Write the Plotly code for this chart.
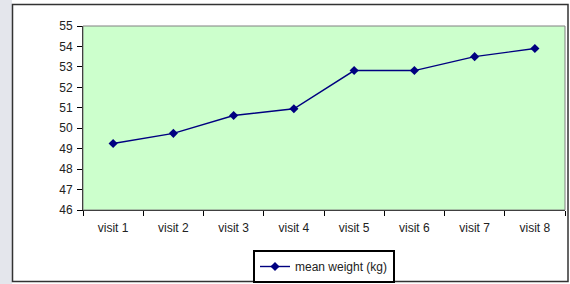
import plotly.graph_objects as go

categories = ["visit 1", "visit 2", "visit 3", "visit 4", "visit 5", "visit 6", "visit 7", "visit 8"]
mean_weight = [49.25, 49.75, 50.62, 50.95, 52.82, 52.82, 53.5, 53.9]
series_name = "mean weight (kg)"

W, H = 570, 284
L, R, T, B = 83, 5, 26, 74
pw, ph = W - L - R, H - T - B

def px_x(x):
    return (x - L) / pw

def px_y(y):
    return (H - B - y) / ph

fig = go.Figure()
fig.add_trace(go.Scatter(
    x=categories, y=mean_weight, name=series_name, mode="lines+markers",
    line=dict(color="#000080", width=1.4),
    marker=dict(symbol="diamond", size=7, color="#000080"),
))

font = dict(family="Liberation Sans, Arial, sans-serif", size=12, color="#222222")

fig.update_layout(
    width=W, height=H,
    margin=dict(l=L, r=R, t=T, b=B, autoexpand=False),
    paper_bgcolor="white",
    plot_bgcolor="#ccffcc",
    font=font,
    showlegend=True,
    legend=dict(
        x=0.5, xanchor="center", y=px_y(250), yanchor="top",
        orientation="h", bordercolor="black", borderwidth=2,
        bgcolor="white", font=dict(size=12, color="#222222"),
        itemwidth=30, tracegroupgap=0,
    ),
    xaxis=dict(
        showgrid=False, showline=True, linecolor="black", linewidth=1,
        ticks="outside", ticklen=5, tickcolor="black", tickson="boundaries",
        range=[-0.5, 7.5], mirror=False, automargin=False,
        ticklabelstandoff=7,
    ),
    yaxis=dict(
        range=[46, 55], dtick=1, showgrid=False, showline=True,
        linecolor="black", linewidth=1, ticks="outside", ticklen=5,
        tickcolor="black", zeroline=False, automargin=False,
        ticklabelstandoff=2,
    ),
    shapes=[
        # left shadow strip
        dict(type="rect", xref="paper", yref="paper",
             x0=px_x(0), x1=px_x(12), y0=px_y(H), y1=px_y(0),
             fillcolor="#e4e6ec", line=dict(width=0), layer="below"),
        # outer frame
        dict(type="rect", xref="paper", yref="paper",
             x0=px_x(12.5), x1=px_x(568), y0=px_y(281.5), y1=px_y(4.5),
             line=dict(color="#333333", width=1.5)),
        # plot area border (top/right gray)
        dict(type="rect", xref="paper", yref="paper",
             x0=0, x1=1, y0=0, y1=1,
             line=dict(color="#808080", width=1)),
    ],
)

fig.write_html(
    "out.html",
    config={"displayModeBar": False},
    post_script="document.body.style.margin='0';document.body.style.padding='0';",
)
